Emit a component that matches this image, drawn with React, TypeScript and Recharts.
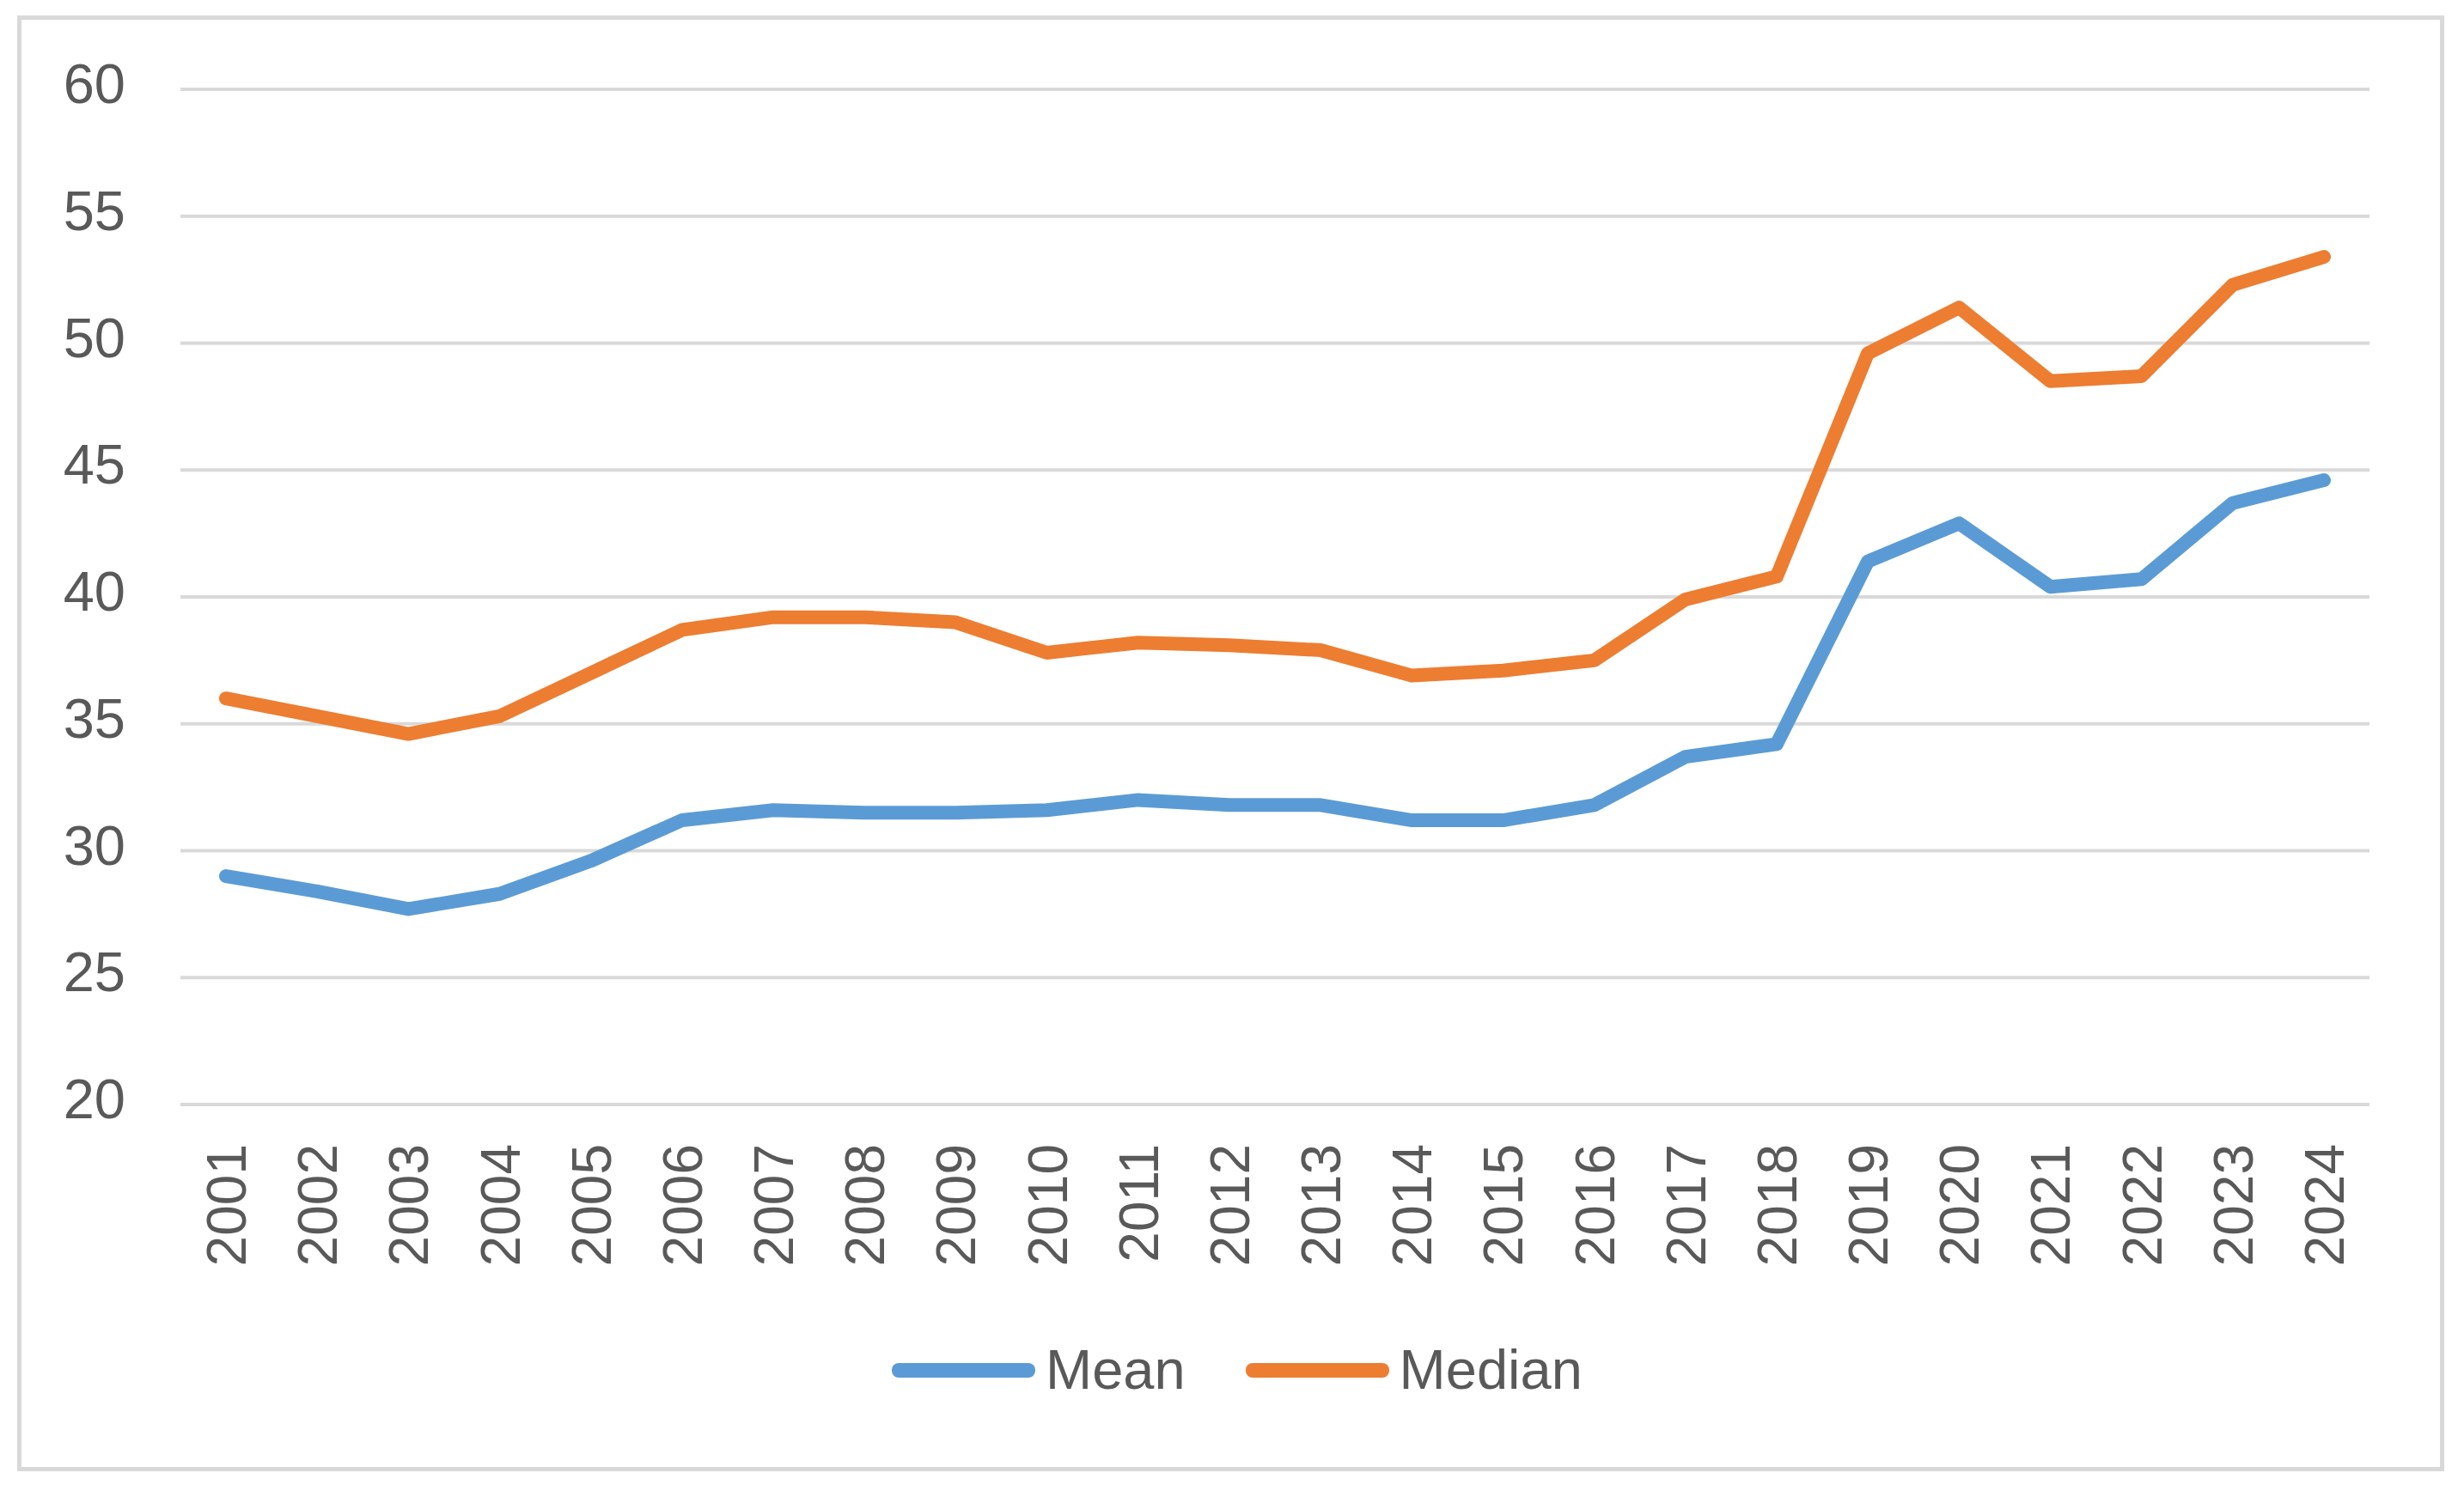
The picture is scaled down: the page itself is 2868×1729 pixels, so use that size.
import React from 'react';
import { CartesianGrid, Line, LineChart, XAxis, YAxis } from 'recharts';

// chart values
const years = [
  '2001', '2002', '2003', '2004', '2005', '2006', '2007', '2008', '2009', '2010', '2011', '2012',
  '2013', '2014', '2015', '2016', '2017', '2018', '2019', '2020', '2021', '2022', '2023', '2024',
];
const meanValues = [
  29.0, 28.4, 27.7, 28.3, 29.6, 31.2, 31.6, 31.5, 31.5, 31.6, 32.0, 31.8,
  31.8, 31.2, 31.2, 31.8, 33.7, 34.2, 41.4, 42.9, 40.4, 40.7, 43.7, 44.6,
];
const medianValues = [
  36.0, 35.3, 34.6, 35.3, 37.0, 38.7, 39.2, 39.2, 39.0, 37.8, 38.2, 38.1,
  37.9, 36.9, 37.1, 37.5, 39.9, 40.8, 49.6, 51.4, 48.5, 48.7, 52.3, 53.4,
];
const yTicks = [20, 25, 30, 35, 40, 45, 50, 55, 60];

const series = [
  { key: 'mean', name: 'Mean', color: '#5B9BD5' },
  { key: 'median', name: 'Median', color: '#ED7D31' },
];

const data = years.map((year, i) => ({ year, mean: meanValues[i], median: medianValues[i] }));

const FONT = "'Liberation Sans', Arial, sans-serif";
const TEXT = '#595959';
const GRID = '#d9d9d9';

const YTick = (props: any) => {
  const { x, y, payload } = props;
  return (
    <text x={x} y={y + 16} textAnchor="end" fill={TEXT} fontSize={65} fontFamily={FONT}>
      {payload.value}
    </text>
  );
};

const XTick = (props: any) => {
  const { x, y, payload } = props;
  const tx = x + 23;
  const ty = y + 46;
  return (
    <text
      x={tx}
      y={ty}
      transform={`rotate(-90, ${tx}, ${ty})`}
      textAnchor="end"
      fill={TEXT}
      fontSize={64}
      fontFamily={FONT}
    >
      {payload.value}
    </text>
  );
};

export default function App() {
  return (
    <div style={{ position: 'absolute', left: 0, top: 0, width: 2868, height: 1729, background: '#fff' }}>
      <div
        style={{
          position: 'absolute',
          left: 20,
          top: 18,
          width: 2825,
          height: 1695,
          boxSizing: 'border-box',
          border: `5px solid ${GRID}`,
        }}
      />
      <div style={{ position: 'absolute', left: 0, top: 0 }}>
        <LineChart width={2868} height={1729} data={data} margin={{ top: 104, right: 110, left: 0, bottom: 263 }}>
          <CartesianGrid vertical={false} stroke={GRID} strokeWidth={4} />
          <XAxis
            dataKey="year"
            interval={0}
            height={180}
            padding={{ left: 53, right: 53 }}
            axisLine={false}
            tickLine={false}
            tickSize={0}
            tickMargin={0}
            tick={<XTick />}
          />
          <YAxis
            domain={[20, 60]}
            ticks={yTicks}
            width={210}
            axisLine={false}
            tickLine={false}
            tickSize={0}
            tickMargin={64}
            tick={<YTick />}
            interval={0}
          />
          {series.map((s) => (
            <Line
              key={s.key}
              type="linear"
              dataKey={s.key}
              name={s.name}
              stroke={s.color}
              strokeWidth={16}
              strokeLinecap="round"
              strokeLinejoin="round"
              dot={false}
              activeDot={false}
              isAnimationActive={false}
            />
          ))}
        </LineChart>
      </div>
      <div
        style={{
          position: 'absolute',
          left: 1038,
          top: 1555,
          height: 80,
          display: 'flex',
          alignItems: 'center',
          fontFamily: FONT,
          fontSize: 65,
          color: TEXT,
        }}
      >
        {series.map((s, i) => (
          <div key={s.key} style={{ display: 'flex', alignItems: 'center', marginRight: i === 0 ? 70 : 0 }}>
            <div style={{ width: 167, height: 17, borderRadius: 8, background: s.color, marginRight: 12 }} />
            <span style={{ lineHeight: '80px' }}>{s.name}</span>
          </div>
        ))}
      </div>
    </div>
  );
}
